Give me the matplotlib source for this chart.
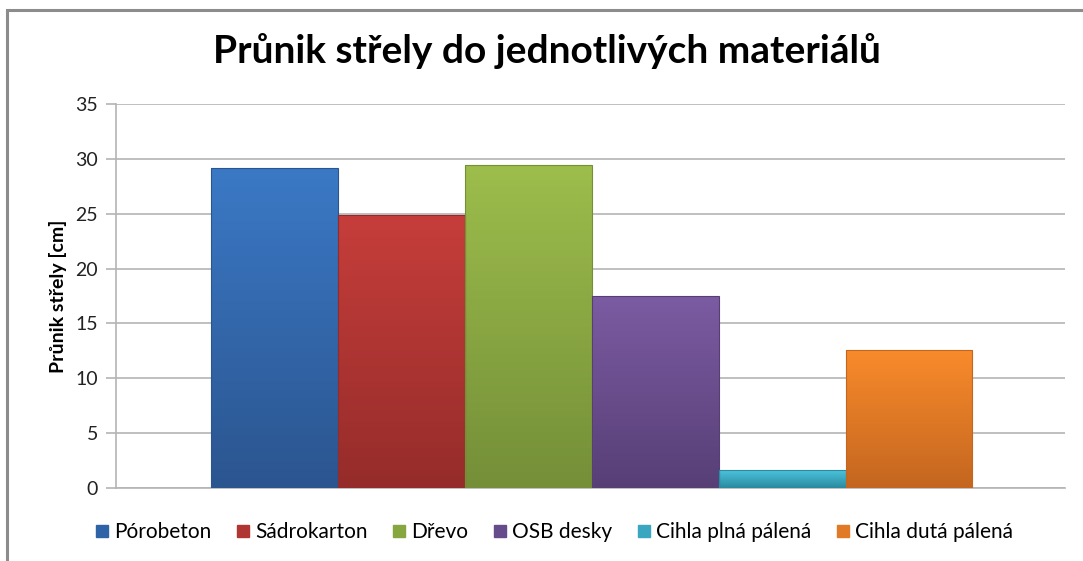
import numpy as np
import matplotlib.pyplot as plt
from matplotlib.colors import LinearSegmentedColormap
from matplotlib.patches import Rectangle
from matplotlib.lines import Line2D

plt.rcParams['font.family'] = ['Lato', 'DejaVu Sans']

materials = ['Pórobeton', 'Sádrokarton', 'Dřevo', 'OSB desky',
             'Cihla plná pálená', 'Cihla dutá pálená']
values = [29.2, 24.9, 29.4, 17.5, 1.6, 12.6]
colors_top = ['#3b79c6', '#c63e3b', '#9dbd4c', '#7b5ba2', '#4cc3dc', '#f98b2b']
colors_bot = ['#2b558f', '#952c2a', '#748f38', '#573f76', '#2a8aa0', '#c46620']
legend_colors = ['#2f63a8', '#b03633', '#86a640', '#674c8c', '#3aa6c0', '#e07a26']

fig = plt.figure(figsize=(10.83, 5.61), dpi=100)
ax = fig.add_axes([116 / 1083, 1 - 488 / 561, (1065 - 116) / 1083, (488 - 104) / 561])

x = np.arange(len(values))
bars = ax.bar(x, values, width=1.0, color='none', edgecolor='none', zorder=3)
grad = np.linspace(0, 1, 256).reshape(-1, 1)
for b, ct, cb in zip(bars, colors_top, colors_bot):
    cmap = LinearSegmentedColormap.from_list('g', [cb, ct])
    x0, w, h = b.get_x(), b.get_width(), b.get_height()
    im = ax.imshow(grad, cmap=cmap, aspect='auto', origin='lower',
                   extent=[x0, x0 + w, 0, h], zorder=3)
    im.set_clip_path(b)
    ax.add_patch(Rectangle((x0, 0), w, h, fill=False, edgecolor=cb,
                           linewidth=0.8, zorder=4))

ax.set_xlim(-0.5 - 0.75, 5.5 + 0.73)
ax.set_ylim(0, 35)
ax.set_yticks(range(0, 36, 5))
ax.set_xticks([])
ax.yaxis.grid(True, color='#b4b4b4', linewidth=1.2, zorder=0)
ax.set_axisbelow(True)
for s in ['top', 'right']:
    ax.spines[s].set_visible(False)
ax.spines['left'].set_color('#b4b4b4')
ax.spines['bottom'].set_color('#b4b4b4')
ax.spines['left'].set_linewidth(1.2)
ax.spines['bottom'].set_linewidth(1.2)
ax.tick_params(axis='y', length=7, color='#b4b4b4', width=1.2,
               labelsize=14, labelcolor='#222222', pad=6)
ax.set_ylabel('Průnik střely [cm]', fontsize=14, fontweight='bold', labelpad=6)

fig.text(0.505, 1 - 51 / 561, 'Průnik střely do jednotlivých materiálů',
         ha='center', va='center', fontsize=28, fontweight='bold')

handles = [Line2D([], [], marker='s', linestyle='none', markersize=9,
                  markerfacecolor=c, markeredgecolor=c) for c in legend_colors]
fig.legend(handles, materials, loc='center', bbox_to_anchor=(0.51, 1 - 532 / 561),
           ncol=6, frameon=False, fontsize=15, handletextpad=0.1,
           columnspacing=1.0, handlelength=1.0)

fig.add_artist(Rectangle((7 / 1083, -0.1), 1.2, 1 - 10 / 561 + 0.1,
                         transform=fig.transFigure, fill=False,
                         edgecolor='#8c8c8c', linewidth=2.2))

fig.savefig('out.png', dpi=100)
